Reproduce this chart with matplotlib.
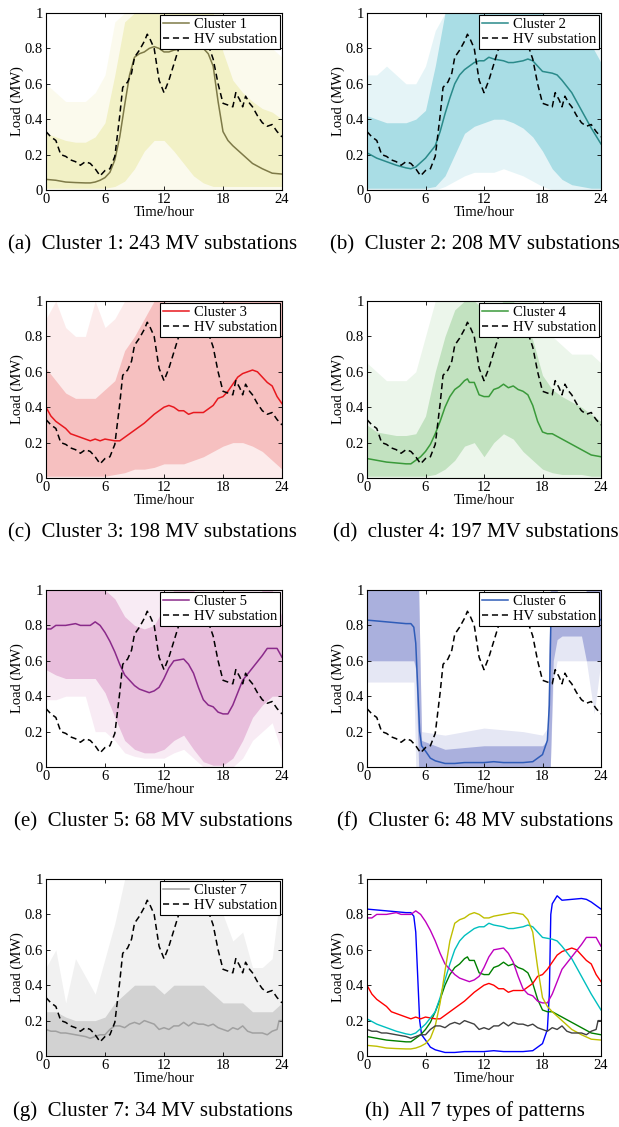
import matplotlib
matplotlib.use("Agg")
import matplotlib.pyplot as plt

plt.rcParams['font.family'] = ['Liberation Serif', 'DejaVu Serif']
plt.rcParams['font.size'] = 10.5

hours = list(range(25))

# HV substation reference profile (same in panels a-g)
hv_t = [0, 0.5, 1, 1.5, 2, 2.5, 3, 3.5, 4, 4.5, 5, 5.5, 6, 6.5, 7, 7.5, 7.8, 8.3, 8.7, 9,
        9.5, 10, 10.3, 10.6, 11, 11.5, 12, 12.5, 13, 13.5, 14, 15, 16, 16.5, 17, 17.5, 18, 18.5, 19, 19.3,
        19.7, 20, 20.3, 20.7, 21, 21.5, 22, 22.5, 23, 23.5, 24]
hv_load = [0.33, 0.30, 0.28, 0.20, 0.19, 0.17, 0.16, 0.14, 0.16, 0.15, 0.12, 0.08, 0.11, 0.12, 0.19, 0.42, 0.58, 0.61, 0.66, 0.75,
           0.79, 0.84, 0.88, 0.85, 0.80, 0.62, 0.55, 0.62, 0.71, 0.80, 0.86, 0.92, 0.93, 0.82, 0.74, 0.60, 0.49, 0.48, 0.47, 0.55,
           0.51, 0.47, 0.53, 0.49, 0.47, 0.42, 0.38, 0.36, 0.37, 0.33, 0.30]

# cluster mean profiles
c1_t = [0, 1, 2, 3, 4, 4.5, 5, 5.5, 6, 6.5, 7, 7.5, 8, 8.5, 9, 9.5, 10, 10.5, 11, 11.5,
        12, 12.5, 13, 14, 15, 16, 16.5, 17, 17.5, 18, 18.5, 19, 20, 21, 22, 23, 24]
c1_mean = [0.06, 0.055, 0.045, 0.042, 0.04, 0.04, 0.045, 0.055, 0.07, 0.10, 0.17, 0.30, 0.48, 0.65, 0.75, 0.77, 0.78, 0.80, 0.81, 0.80,
           0.78, 0.78, 0.79, 0.80, 0.81, 0.80, 0.77, 0.70, 0.50, 0.33, 0.28, 0.25, 0.20, 0.15, 0.12, 0.095, 0.09]

c2_t = [0, 1, 2, 3, 4, 4.5, 5, 6, 7, 7.5, 8, 8.5, 9, 9.5, 10, 11, 11.5, 12, 12.5, 13,
        14, 14.5, 15, 16, 16.5, 17, 17.5, 18, 19, 19.5, 20, 21, 22, 23, 24]
c2_mean = [0.21, 0.18, 0.16, 0.14, 0.125, 0.12, 0.13, 0.18, 0.25, 0.33, 0.43, 0.52, 0.60, 0.65, 0.68, 0.72, 0.73, 0.73, 0.75, 0.74,
           0.73, 0.72, 0.72, 0.73, 0.74, 0.73, 0.70, 0.67, 0.66, 0.65, 0.62, 0.55, 0.45, 0.35, 0.26]

c3_t = [0, 0.5, 1, 2, 2.5, 3, 4, 4.5, 5, 5.5, 6, 7, 7.5, 8, 9, 10, 11, 11.5, 12, 12.5,
        13, 13.5, 14, 14.5, 15, 16, 17, 17.5, 18, 18.5, 19, 19.5, 20, 20.5, 21, 21.5, 22, 22.5, 23, 23.5, 24]
c3_mean = [0.40, 0.35, 0.32, 0.28, 0.25, 0.24, 0.22, 0.21, 0.22, 0.21, 0.22, 0.21, 0.21, 0.23, 0.27, 0.31, 0.36, 0.38, 0.40, 0.41,
           0.40, 0.38, 0.38, 0.36, 0.37, 0.37, 0.41, 0.45, 0.46, 0.49, 0.53, 0.57, 0.59, 0.60, 0.61, 0.60, 0.57, 0.54, 0.52, 0.46, 0.42]

c4_t = [0, 1, 2, 3, 4, 4.5, 5, 5.5, 6, 6.5, 7, 7.5, 8, 8.5, 9, 9.5, 10, 10.3, 10.5, 11,
        11.5, 12, 12.5, 13, 13.5, 14, 14.5, 15, 15.5, 16, 16.5, 17, 17.5, 18, 18.5, 19, 20, 21, 22, 23, 24]
c4_mean = [0.11, 0.10, 0.09, 0.085, 0.08, 0.08, 0.10, 0.12, 0.15, 0.19, 0.25, 0.32, 0.40, 0.46, 0.50, 0.52, 0.55, 0.56, 0.54, 0.54,
           0.47, 0.46, 0.46, 0.50, 0.51, 0.53, 0.51, 0.52, 0.50, 0.49, 0.47, 0.41, 0.32, 0.26, 0.25, 0.25, 0.22, 0.19, 0.16, 0.13, 0.12]

c5_t = [0, 0.5, 1, 2, 3, 3.5, 4, 4.5, 5, 5.5, 6, 6.5, 7, 7.5, 8, 8.5, 9, 9.5, 10, 10.5,
        11, 11.5, 12, 12.5, 13, 14, 14.5, 15, 15.5, 16, 16.5, 17, 17.5, 18, 18.5, 19, 19.5, 20, 21, 22,
        22.5, 23, 23.5, 24]
c5_mean = [0.78, 0.78, 0.80, 0.80, 0.81, 0.80, 0.80, 0.80, 0.82, 0.80, 0.76, 0.71, 0.65, 0.58, 0.52, 0.49, 0.46, 0.44, 0.43, 0.42,
           0.43, 0.45, 0.50, 0.56, 0.60, 0.61, 0.58, 0.53, 0.45, 0.38, 0.35, 0.34, 0.31, 0.30, 0.30, 0.35, 0.42, 0.49, 0.56, 0.63,
           0.67, 0.67, 0.67, 0.62]

c6_t = [0, 1, 2, 3, 4, 4.5, 4.8, 5, 5.2, 5.4, 5.6, 6, 6.5, 7, 8, 9, 10, 11, 12, 13,
        14, 15, 16, 17, 17.5, 18, 18.5, 18.7, 18.85, 19, 19.5, 20, 21, 22, 22.5, 23, 24]
c6_mean = [0.83, 0.825, 0.82, 0.815, 0.81, 0.81, 0.79, 0.70, 0.45, 0.20, 0.12, 0.09, 0.05, 0.035, 0.02, 0.02, 0.025, 0.025, 0.025, 0.03,
           0.025, 0.025, 0.025, 0.03, 0.05, 0.07, 0.15, 0.35, 0.80, 0.86, 0.905, 0.88, 0.885, 0.89, 0.885, 0.87, 0.83]

c7_t = [0, 0.5, 1, 1.5, 2, 3, 4, 4.5, 5, 5.5, 6, 6.5, 7, 7.5, 8, 8.5, 9, 9.5, 10, 10.5,
        11, 11.5, 12, 12.5, 13, 13.5, 14, 14.5, 15, 15.5, 16, 16.5, 17, 17.5, 18, 18.5, 19, 19.5, 20, 20.5,
        21, 22, 22.5, 23, 23.5, 23.7, 24]
c7_mean = [0.15, 0.14, 0.14, 0.13, 0.13, 0.12, 0.11, 0.10, 0.11, 0.12, 0.12, 0.15, 0.17, 0.17, 0.16, 0.18, 0.19, 0.18, 0.20, 0.19,
           0.18, 0.15, 0.16, 0.15, 0.17, 0.17, 0.19, 0.17, 0.19, 0.18, 0.18, 0.17, 0.18, 0.16, 0.15, 0.14, 0.16, 0.15, 0.17, 0.14,
           0.13, 0.13, 0.12, 0.14, 0.15, 0.20, 0.20]

# spread of the individual MV substation profiles (hourly envelopes)
c1_core_lo = [0.01, 0.01, 0.01, 0.01, 0.01, 0.01, 0.01, 0.02, 0.05, 0.12, 0.22, 0.28, 0.28, 0.22, 0.15, 0.08, 0.04, 0.02, 0.02, 0.02, 0.02, 0.02, 0.02, 0.02, 0.02]
c1_core_hi = [0.32, 0.30, 0.28, 0.27, 0.27, 0.30, 0.38, 0.65, 0.95, 1, 1, 1, 1, 1, 1, 1, 1, 1, 0.78, 0.62, 0.55, 0.50, 0.46, 0.44, 0.40]
c1_faint_lo = [0] * 25
c1_faint_hi = [0.60, 0.55, 0.50, 0.50, 0.50, 0.55, 0.65, 0.95, 1, 1, 1, 1, 1, 1, 1, 1, 1, 1, 1, 0.95, 0.90, 0.85, 0.85, 0.80, 0.75]

c2_core_lo = [0.01, 0.01, 0.01, 0.01, 0.01, 0.01, 0.01, 0.02, 0.08, 0.20, 0.32, 0.36, 0.38, 0.40, 0.40, 0.38, 0.35, 0.30, 0.22, 0.12, 0.06, 0.03, 0.02, 0.01, 0.01]
c2_core_hi = [0.42, 0.40, 0.38, 0.38, 0.38, 0.40, 0.45, 0.70, 1, 1, 1, 1, 1, 1, 1, 1, 1, 1, 1, 0.95, 0.95, 0.92, 0.88, 0.82, 0.72]
c2_faint_lo = [0, 0, 0, 0, 0, 0, 0, 0, 0.02, 0.05, 0.08, 0.10, 0.10, 0.10, 0.12, 0.10, 0.08, 0.05, 0.02, 0, 0, 0, 0, 0, 0]
c2_faint_hi = [0.65, 0.65, 0.70, 0.65, 0.60, 0.60, 0.70, 0.90, 1, 1, 1, 1, 1, 1, 1, 1, 1, 1, 1, 1, 1, 1, 1, 1, 1]

c3_core_lo = [0.01, 0.01, 0.01, 0.01, 0.01, 0.01, 0.01, 0.02, 0.03, 0.05, 0.05, 0.06, 0.08, 0.08, 0.08, 0.10, 0.12, 0.15, 0.18, 0.20, 0.20, 0.18, 0.15, 0.10, 0.05]
c3_core_hi = [0.62, 0.55, 0.48, 0.45, 0.45, 0.45, 0.50, 0.55, 0.72, 0.80, 0.90, 1, 1, 0.95, 0.92, 0.90, 0.90, 0.95, 1, 1, 1, 1, 1, 1, 1]
c3_faint_lo = [0] * 25
c3_faint_hi = [0.90, 1, 0.85, 0.80, 0.80, 1, 0.85, 0.90, 1, 1, 1, 1, 1, 1, 1, 1, 1, 1, 1, 1, 1, 1, 1, 1, 1]

c4_core_lo = [0.01, 0.01, 0.01, 0.01, 0.01, 0.01, 0.01, 0.02, 0.05, 0.10, 0.18, 0.20, 0.12, 0.20, 0.25, 0.22, 0.15, 0.10, 0.05, 0.03, 0.02, 0.02, 0.02, 0.01, 0.01]
c4_core_hi = [0.30, 0.26, 0.25, 0.24, 0.24, 0.25, 0.35, 0.60, 0.80, 0.95, 1, 1, 0.95, 0.95, 1, 1, 0.90, 0.78, 0.58, 0.50, 0.46, 0.43, 0.40, 0.36, 0.32]
c4_faint_lo = [0] * 25
c4_faint_hi = [0.65, 0.60, 0.55, 0.55, 0.55, 0.60, 0.80, 1, 1, 1, 1, 1, 1, 1, 1, 1, 1, 1, 0.95, 0.80, 0.75, 0.70, 0.70, 0.70, 0.65]

c5_core_lo = [0.55, 0.52, 0.50, 0.50, 0.50, 0.50, 0.42, 0.28, 0.15, 0.10, 0.08, 0.08, 0.10, 0.15, 0.18, 0.10, 0.03, 0.01, 0.01, 0.05, 0.15, 0.28, 0.35, 0.40, 0.40]
c5_core_hi = [1, 1, 1, 1, 1, 1, 1, 0.95, 0.85, 0.80, 0.78, 0.80, 0.90, 1, 1, 1, 0.90, 0.85, 0.80, 0.80, 0.85, 0.90, 1, 1, 0.85]
c5_faint_lo = [0.38, 0.38, 0.40, 0.40, 0.40, 0.20, 0.20, 0.15, 0.08, 0.06, 0.05, 0.05, 0.05, 0.08, 0.10, 0.05, 0, 0, 0, 0, 0.05, 0.15, 0.20, 0.25, 0.08]
c5_faint_hi = [1] * 25

c6_band_t = [0, 4.8, 5.0, 5.3, 5.6, 8, 12, 16, 18, 18.5, 18.8, 19.1, 19.5, 20, 22, 22.5, 23.3, 24]
c6_core_lo = [0.60, 0.60, 0.55, 0, 0, 0, 0, 0, 0, 0, 0, 0.60, 0.72, 0.74, 0.74, 0.60, 0.60, 0.60]
c6_core_hi = [1, 1, 1, 1, 0.15, 0.10, 0.12, 0.12, 0.12, 0.15, 1, 1, 1, 0.86, 0.86, 1, 1, 1]
c6_faint_lo = [0.48, 0.48, 0, 0, 0, 0, 0, 0, 0, 0, 0, 0.48, 0.60, 0.60, 0.60, 0.60, 0.30, 0.60]
c6_faint_hi = [1, 1, 1, 1, 0.20, 0.18, 0.22, 0.20, 0.18, 0.22, 1, 1, 1, 0.88, 0.88, 1, 1, 1]

c7_core_lo = [0] * 25
c7_core_hi = [0.25, 0.25, 0.22, 0.20, 0.20, 0.20, 0.22, 0.30, 0.35, 0.40, 0.40, 0.40, 0.35, 0.40, 0.40, 0.40, 0.40, 0.35, 0.30, 0.30, 0.30, 0.25, 0.25, 0.25, 0.30]
c7_faint_lo = [0] * 25
c7_faint_hi = [0.50, 0.60, 0.30, 0.55, 0.45, 0.35, 0.55, 0.75, 1, 1, 1, 1, 1, 1, 1, 1, 1, 0.90, 0.80, 0.65, 0.70, 0.50, 0.50, 0.55, 1]

captions = ["(a)  Cluster 1: 243 MV substations", "(b)  Cluster 2: 208 MV substations",
            "(c)  Cluster 3: 198 MV substations", "(d)  cluster 4: 197 MV substations",
            "(e)  Cluster 5: 68 MV substations", "(f)  Cluster 6: 48 MV substations",
            "(g)  Cluster 7: 34 MV substations", "(h)  All 7 types of patterns"]

mean_colors = ['#7e7a48', '#2a8a8a', '#e8181e', '#3a9a3a', '#8a2a8a', '#2f5cb8', '#a0a0a0']
band_colors = ['#f2f1c6', '#a9dde5', '#f6c0c0', '#c2e2c0', '#e8bedc', '#aab0dd', '#d2d2d2']
all_colors = ['#bfbf00', '#00bfbf', '#ff0000', '#008000', '#bf00bf', '#0000ff', '#404040']

clusters = [
    (c1_t, c1_mean, hours, c1_core_lo, c1_core_hi, c1_faint_lo, c1_faint_hi),
    (c2_t, c2_mean, hours, c2_core_lo, c2_core_hi, c2_faint_lo, c2_faint_hi),
    (c3_t, c3_mean, hours, c3_core_lo, c3_core_hi, c3_faint_lo, c3_faint_hi),
    (c4_t, c4_mean, hours, c4_core_lo, c4_core_hi, c4_faint_lo, c4_faint_hi),
    (c5_t, c5_mean, hours, c5_core_lo, c5_core_hi, c5_faint_lo, c5_faint_hi),
    (c6_t, c6_mean, c6_band_t, c6_core_lo, c6_core_hi, c6_faint_lo, c6_faint_hi),
    (c7_t, c7_mean, hours, c7_core_lo, c7_core_hi, c7_faint_lo, c7_faint_hi),
]

fig = plt.figure(figsize=(6.19, 11.27), dpi=100)

col_x = [46 / 619, 367 / 619]
col_w = [236 / 619, 234 / 619]
row_top = [13, 301, 590, 879]
ax_h = 177 / 1127
cap_x = [0.247, 0.768]


def style_axes(ax):
    ax.set_xlim(0, 24)
    ax.set_ylim(0, 1)
    ax.set_xticks([0, 6, 12, 18, 24])
    ax.set_yticks([0, 0.2, 0.4, 0.6, 0.8, 1])
    ax.set_yticklabels(['0', '0.2', '0.4', '0.6', '0.8', '1'])
    ax.tick_params(direction='in', length=3, width=0.6, top=True, right=True, pad=2, labelsize=10.5)
    for s in ax.spines.values():
        s.set_linewidth(0.8)
    ax.set_xlabel('Time/hour', labelpad=0)
    ax.set_ylabel('Load (MW)', labelpad=1)


for i in range(8):
    r, c = divmod(i, 2)
    bottom = 1 - (row_top[r] + 177) / 1127
    ax = fig.add_axes([col_x[c], bottom, col_w[c], ax_h])
    if i < 7:
        t, m, bt, clo, chi, flo, fhi = clusters[i]
        ax.fill_between(bt, flo, fhi, color=band_colors[i], alpha=0.3, lw=0)
        ax.fill_between(bt, clo, chi, color=band_colors[i], alpha=1, lw=0)
        ax.plot(t, m, color=mean_colors[i], lw=1.1, label='Cluster %d' % (i + 1))
        ax.plot(hv_t, hv_load, color='black', lw=1.1, ls=(0, (4, 2.5)), label='HV substation')
        leg = ax.legend(loc='upper right', borderaxespad=0.15, handlelength=1.8, handletextpad=0.3,
                        labelspacing=0.1, borderpad=0.2, fancybox=False, framealpha=1,
                        edgecolor='black', fontsize=10.5)
        leg.get_frame().set_linewidth(0.8)
    else:
        for j in [5, 3, 2, 1, 4, 0, 6]:
            ax.plot(clusters[j][0], clusters[j][1], color=all_colors[j], lw=1.0)
    style_axes(ax)
    fig.text(cap_x[c], 1 - (row_top[r] + 232) / 1127, captions[i], ha='center', va='center', fontsize=15)

fig.savefig('out.png', dpi=100)
